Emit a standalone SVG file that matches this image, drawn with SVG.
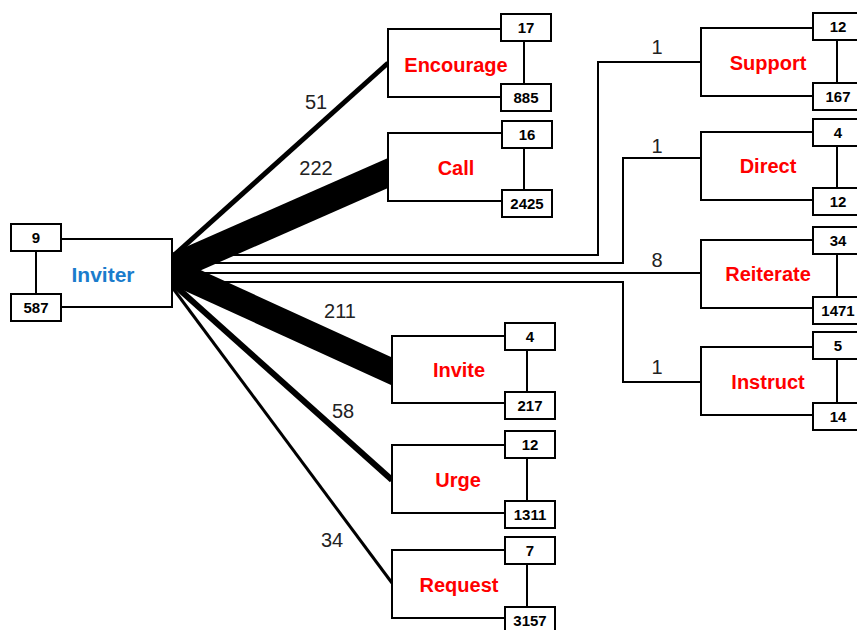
<svg xmlns="http://www.w3.org/2000/svg" width="857" height="630" viewBox="0 0 857 630">
<style>
.main{fill:#fff;stroke:#000;stroke-width:2}
.box{fill:#fff;stroke:#000;stroke-width:2}
.num{font-family:"Liberation Sans",Arial,sans-serif;font-weight:bold;font-size:15px;fill:#000;text-anchor:middle}
.lbl{font-family:"Liberation Sans",Arial,sans-serif;font-weight:bold;font-size:20px;fill:#ff0000;text-anchor:middle}
.elbl{font-family:"Liberation Sans",Arial,sans-serif;font-size:20px;fill:#222;text-anchor:middle}
.el{fill:none;stroke:#000;stroke-width:2}
.dg{stroke:#000;fill:none;stroke-linecap:butt}
.wedge{fill:#000;stroke:none}
</style>
<rect width="857" height="630" fill="#fff"/>
<g id="connectors">
<line class="dg" x1="172" y1="257" x2="388" y2="63" stroke-width="5"/>
<polygon class="wedge" points="172,253 388,158 388,188 172,283"/>
<polygon class="wedge" points="172,257 391,357 391,385 172,285"/>
<line class="dg" x1="172" y1="283" x2="392" y2="480" stroke-width="6"/>
<line class="dg" x1="172" y1="287" x2="392" y2="583" stroke-width="3"/>
<path class="el" d="M172,255 H598 V62 H701"/>
<path class="el" d="M172,263 H623 V158 H701"/>
<path class="el" d="M172,273 H701"/>
<path class="el" d="M172,282 H623 V382 H701"/>
<text class="elbl" x="316" y="109">51</text>
<text class="elbl" x="316" y="175">222</text>
<text class="elbl" x="340" y="318">211</text>
<text class="elbl" x="343" y="418">58</text>
<text class="elbl" x="332" y="547">34</text>
<text class="elbl" x="657" y="54">1</text>
<text class="elbl" x="657" y="153">1</text>
<text class="elbl" x="657" y="267">8</text>
<text class="elbl" x="657" y="374">1</text>
</g>
<g id="inviter">
<rect class="main" x="36" y="239" width="136" height="68"/>
<rect class="box" x="11" y="224" width="50" height="27"/>
<rect class="box" x="11" y="294" width="50" height="27"/>
<text class="num" x="36" y="243">9</text>
<text class="num" x="36" y="313">587</text>
<text class="lbl" x="103" y="282" style="fill:#1a7ccc;font-size:21px">Inviter</text>
</g>
<g id="encourage">
<rect class="main" x="388" y="29" width="136" height="68"/>
<rect class="box" x="501" y="14" width="50" height="27"/>
<rect class="box" x="501" y="84" width="50" height="27"/>
<text class="num" x="526" y="33">17</text>
<text class="num" x="526" y="103">885</text>
<text class="lbl" x="456" y="72">Encourage</text>
</g>
<g id="call">
<rect class="main" x="388" y="133" width="136" height="68"/>
<rect class="box" x="502" y="121" width="50" height="27"/>
<rect class="box" x="502" y="190" width="50" height="27"/>
<text class="num" x="527" y="140">16</text>
<text class="num" x="527" y="209">2425</text>
<text class="lbl" x="456" y="175">Call</text>
</g>
<g id="support">
<rect class="main" x="701" y="28" width="136" height="68"/>
<rect class="box" x="813" y="13" width="50" height="27"/>
<rect class="box" x="813" y="83" width="50" height="27"/>
<text class="num" x="838" y="32">12</text>
<text class="num" x="838" y="102">167</text>
<text class="lbl" x="768" y="70">Support</text>
</g>
<g id="direct">
<rect class="main" x="701" y="132" width="136" height="68"/>
<rect class="box" x="813" y="119" width="50" height="27"/>
<rect class="box" x="813" y="188" width="50" height="27"/>
<text class="num" x="838" y="138">4</text>
<text class="num" x="838" y="207">12</text>
<text class="lbl" x="768" y="173">Direct</text>
</g>
<g id="reiterate">
<rect class="main" x="701" y="240" width="136" height="68"/>
<rect class="box" x="813" y="227" width="50" height="27"/>
<rect class="box" x="813" y="297" width="50" height="27"/>
<text class="num" x="838" y="246">34</text>
<text class="num" x="838" y="316">1471</text>
<text class="lbl" x="768" y="281">Reiterate</text>
</g>
<g id="instruct">
<rect class="main" x="701" y="347" width="136" height="68"/>
<rect class="box" x="813" y="332" width="50" height="27"/>
<rect class="box" x="813" y="403" width="50" height="27"/>
<text class="num" x="838" y="351">5</text>
<text class="num" x="838" y="422">14</text>
<text class="lbl" x="768" y="389">Instruct</text>
</g>
<g id="invite">
<rect class="main" x="392" y="336" width="135" height="67"/>
<rect class="box" x="505" y="323" width="50" height="27"/>
<rect class="box" x="505" y="392" width="50" height="27"/>
<text class="num" x="530" y="342">4</text>
<text class="num" x="530" y="411">217</text>
<text class="lbl" x="459" y="377">Invite</text>
</g>
<g id="urge">
<rect class="main" x="392" y="445" width="135" height="68"/>
<rect class="box" x="505" y="431" width="50" height="27"/>
<rect class="box" x="505" y="501" width="50" height="27"/>
<text class="num" x="530" y="450">12</text>
<text class="num" x="530" y="520">1311</text>
<text class="lbl" x="458" y="487">Urge</text>
</g>
<g id="request">
<rect class="main" x="392" y="550" width="135" height="68"/>
<rect class="box" x="505" y="537" width="50" height="27"/>
<rect class="box" x="505" y="607" width="50" height="27"/>
<text class="num" x="530" y="556">7</text>
<text class="num" x="530" y="626">3157</text>
<text class="lbl" x="459" y="592">Request</text>
</g>
</svg>
